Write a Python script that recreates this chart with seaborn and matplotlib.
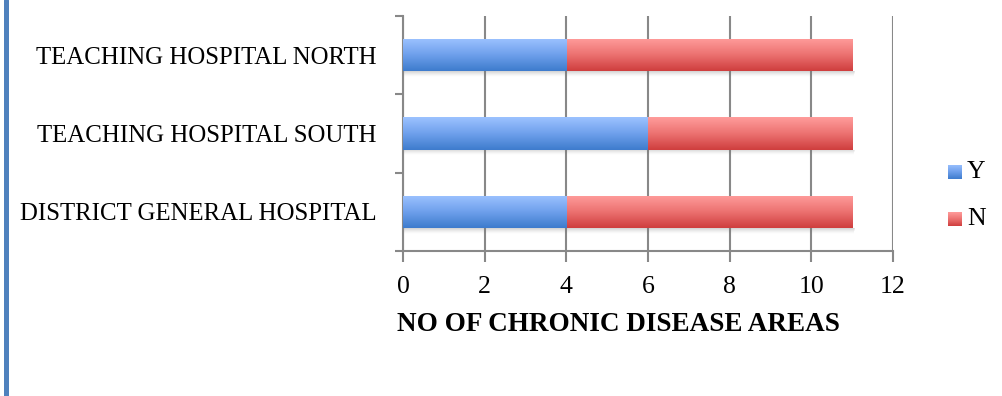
import numpy as np
import pandas as pd
import matplotlib
matplotlib.use("Agg")
import matplotlib.pyplot as plt
from matplotlib.colors import LinearSegmentedColormap
from matplotlib.patches import Rectangle
import seaborn as sns

# Chronic disease areas covered per hospital
hospitals = ["TEACHING HOSPITAL NORTH", "TEACHING HOSPITAL SOUTH", "DISTRICT GENERAL HOSPITAL"]
yes_counts = [4, 6, 4]
no_counts = [7, 5, 7]
x_ticks = [0, 2, 4, 6, 8, 10, 12]
x_label = "NO OF CHRONIC DISEASE AREAS"
series_names = ["Y", "N"]

sns.set_style("white")
plt.rcParams["font.family"] = ["Liberation Serif", "DejaVu Serif"]
plt.rcParams["text.color"] = "black"
plt.rcParams["xtick.labelcolor"] = "black"
plt.rcParams["ytick.labelcolor"] = "black"
plt.rcParams["axes.labelcolor"] = "black"

df = pd.DataFrame({
    "hospital": hospitals,
    "Y": yes_counts,
    "total": [y + n for y, n in zip(yes_counts, no_counts)],
})

fig = plt.figure(figsize=(10.02, 3.96), dpi=100)
ax = fig.add_axes([0.4022, 0.3662, 0.8912 - 0.4022, 0.9596 - 0.3662])

BAR_H = 0.41
# stacked bars: total (N segment) underneath, Y segment drawn over it
sns.barplot(data=df, y="hospital", x="total", order=hospitals, color="#E05555",
            width=BAR_H, ax=ax, zorder=3, saturation=1)
n_patches = list(ax.patches)
sns.barplot(data=df, y="hospital", x="Y", order=hospitals, color="#4F8BD8",
            width=BAR_H, ax=ax, zorder=4, saturation=1)
y_patches = [p for p in ax.patches if p not in n_patches]

blue_cmap = LinearSegmentedColormap.from_list("blue_grad", ["#9CC2FF", "#6FA0EC", "#3E7CCD"])
red_cmap = LinearSegmentedColormap.from_list("red_grad", ["#FF9C9B", "#EC7271", "#CF3E3E"])
grad = np.linspace(0, 1, 64).reshape(-1, 1)


def shade(patch, cmap, z):
    x0, y0 = patch.get_x(), patch.get_y()
    w, h = patch.get_width(), patch.get_height()
    img = ax.imshow(grad, cmap=cmap, aspect="auto", extent=[x0, x0 + w, y0 + h, y0],
                    zorder=z, interpolation="bicubic")
    img.set_clip_path(patch)
    patch.set_facecolor("none")
    patch.set_edgecolor("none")


# soft drop shadow under each full bar
for p in n_patches:
    x0, y0 = p.get_x(), p.get_y()
    w, h = p.get_width(), p.get_height()
    for i in range(6):
        a = 0.10 * (1 - i / 6)
        ax.add_patch(Rectangle((x0 + 0.02, y0 + h), w + 0.05 - 0.005 * i, 0.012 * (i + 1),
                               facecolor="#808080", alpha=a, edgecolor="none", zorder=2))

for p in n_patches:
    shade(p, red_cmap, 3)
for p in y_patches:
    shade(p, blue_cmap, 4)

ax.set_xlim(0, 12)
ax.set_ylim(2.5, -0.5)
ax.set_xticks(x_ticks)
ax.set_xticklabels([str(t) for t in x_ticks], fontsize=18.5)
ax.set_xlabel(x_label, fontsize=19.5, fontweight="bold")
ax.xaxis.set_label_coords(0.439, -0.311)
ax.xaxis.label.set_va("center")
ax.set_ylabel("")
ax.set_yticks(range(len(hospitals)))
ax.set_yticklabels(hospitals, fontsize=17.9)
ax.tick_params(axis="y", which="major", length=0, pad=19, left=True)
ax.set_yticks([-0.5, 0.5, 1.5, 2.5], minor=True)
ax.tick_params(axis="y", which="minor", length=6, width=1.5, color="#888888",
               direction="out", left=True)
ax.tick_params(axis="x", length=8, width=1.5, color="#888888", direction="out",
               pad=10, bottom=True)

ax.grid(axis="x", color="#888888", linewidth=1.5, zorder=1)
ax.set_axisbelow(True)
for side in ["top", "right"]:
    ax.spines[side].set_visible(False)
for side in ["left", "bottom"]:
    ax.spines[side].set_color("#888888")
    ax.spines[side].set_linewidth(1.5)

# legend with gradient-shaded square markers
legend_items = [(series_names[0], blue_cmap, 172), (series_names[1], red_cmap, 219)]
for name, cmap, ypix in legend_items:
    lax = fig.add_axes([948 / 1002, 1 - (ypix + 7) / 396, 14 / 1002, 14 / 396])
    lax.imshow(grad, cmap=cmap, aspect="auto", interpolation="bicubic")
    lax.set_axis_off()
    fig.text(967 / 1002, 1 - ypix / 396, name, fontsize=18.5, va="center", ha="left")

# blue rule along the left edge of the figure
fig.add_artist(plt.Line2D([5.5 / 1002, 5.5 / 1002], [0, 1], color="#4F81BD",
                          linewidth=3.6, transform=fig.transFigure))

fig.savefig("out.png", dpi=100)
